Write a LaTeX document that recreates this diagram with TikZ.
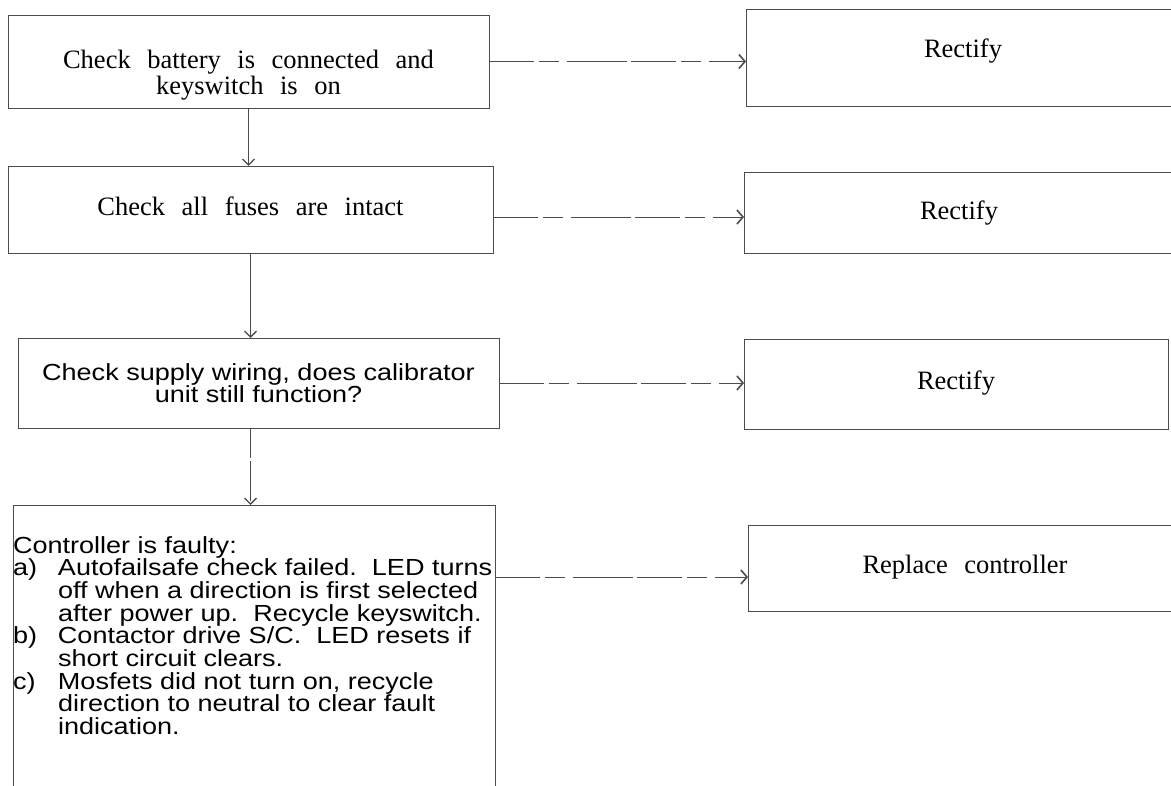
\documentclass[tikz,border=0pt]{standalone}
\usepackage{fontspec}
\setmainfont{Liberation Serif}[WordSpace=2.5]
\newfontfamily\sansf{Liberation Sans}[FakeStretch=1.16]
\usetikzlibrary{arrows.meta}
\newcommand\inbox[4]{\begin{minipage}[t][#2][t]{#1}\vspace*{\dimexpr#3-22pt\relax}#4\end{minipage}}
\newcommand\serf{\fontsize{26.5pt}{26pt}\selectfont}
\newcommand\sanf[1]{\sansf\fontsize{23.3pt}{#1}\selectfont}
\newcommand\fl{\rule{0pt}{22pt}}
\tikzset{
  bx/.style={draw=black!70, line width=0.9pt, inner sep=0pt, outer sep=0pt, anchor=north west},
  vconn/.style={draw=black!70, line width=0.8pt, -{Straight Barb[length=6pt,width=12pt,line width=1.4pt]}},
  hconn/.style={draw=black!70, line width=0.8pt, dash pattern=on 45pt off 5pt on 20pt off 8pt on 60pt off 4pt,
     -{Straight Barb[length=6pt,width=14pt,line width=1.6pt]}},
}
\begin{document}
\begin{tikzpicture}[x=1pt,y=-1pt]
\useasboundingbox (0,0) rectangle (1171,786);
\clip (0,0) rectangle (1171,786);
\fill[white] (0,0) rectangle (1171,786);
% left column
\node[bx] (b1) at (8,15) {\inbox{481pt}{93pt}{54pt}{\centering\serf\fl Check battery is connected and\\keyswitch is on\par}};
\node[bx] (b2) at (8,166) {\inbox{485pt}{87pt}{50pt}{\centering\serf\fl Check all fuses are intact\par}};
\node[bx] (b3) at (18,338) {\inbox{481pt}{90pt}{43pt}{\centering\sanf{22pt}\fl Check supply wiring, does calibrator\\unit still function?\par}};
\node[bx] (b4) at (13,505) {\inbox{482pt}{320pt}{48pt}{\raggedright\parindent=0pt\sanf{22.7pt}\fl Controller is faulty:\\
\makebox[45pt][l]{a)}Autofailsafe check failed.\ \ LED turns\\
\hspace*{45pt}off when a direction is first selected\\
\hspace*{45pt}after power up.\ \ Recycle keyswitch.\\
\makebox[45pt][l]{b)}Contactor drive S/C.\ \ LED resets if\\
\hspace*{45pt}short circuit clears.\\
\makebox[45pt][l]{c)}Mosfets did not turn on, recycle\\
\hspace*{45pt}direction to neutral to clear fault\\
\hspace*{45pt}indication.\par}};
% right column
\node[bx] (r1) at (746,9) {\inbox{434pt}{97pt}{49pt}{\centering\serf\fl Rectify\par}};
\node[bx] (r2) at (744,172) {\inbox{430pt}{81pt}{48pt}{\centering\serf\fl Rectify\par}};
\node[bx] (r3) at (744,339) {\inbox{424pt}{90pt}{51pt}{\centering\serf\fl Rectify\par}};
\node[bx] (r4) at (748,525) {\inbox{434pt}{86pt}{48pt}{\centering\serf\fl Replace controller\par}};
% vertical connectors
\draw[vconn] (b1.south) -- (b1.south |- b2.north);
\draw[vconn] (b2.south) -- (b2.south |- b3.north);
\draw[vconn, dash pattern=on 30pt off 3pt on 40pt off 4pt] (b2.south |- b3.south) -- (b2.south |- b4.north);
% horizontal connectors
\draw[hconn] (b1.east) -- (b1.east -| r1.west);
\draw[hconn] ([yshift=-7.5pt]b2.east) -- ([yshift=-7.5pt]b2.east -| r2.west);
\draw[hconn] (b3.east) -- (b3.east -| r3.west);
\draw[hconn] ([yshift=-72pt]b4.north east) -- ([yshift=-72pt]b4.north east -| r4.west);
\end{tikzpicture}
\end{document}
